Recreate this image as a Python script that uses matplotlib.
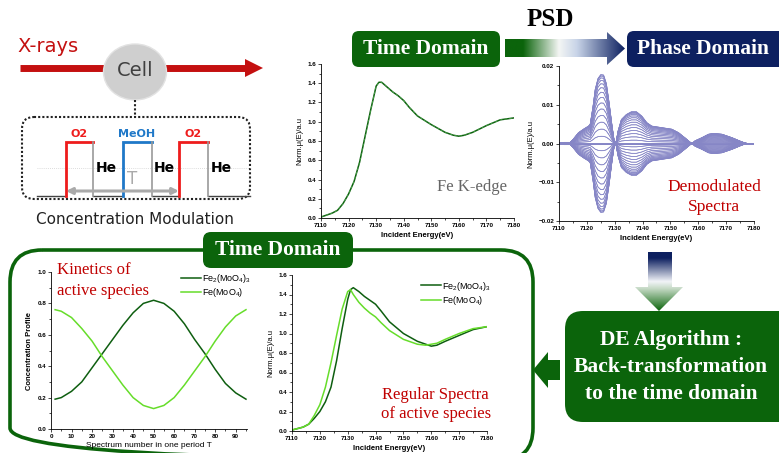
import numpy as np
import matplotlib
matplotlib.use("Agg")
import matplotlib.pyplot as plt
from matplotlib.patches import FancyBboxPatch, Polygon, Ellipse
from matplotlib.colors import LinearSegmentedColormap
from matplotlib.ticker import MultipleLocator

plt.rcParams['font.family'] = ['Liberation Sans', 'DejaVu Sans']
plt.rcParams['mathtext.fontset'] = 'custom'
plt.rcParams['mathtext.rm'] = 'Liberation Sans'
plt.rcParams['mathtext.it'] = 'Liberation Sans:italic'

# Fe K-edge spectrum (time domain, averaged)
energy_edge = [7110, 7114, 7116, 7118, 7120, 7122, 7124, 7126, 7128, 7130, 7131, 7132,
               7134, 7136, 7138, 7140, 7142, 7145, 7150, 7155, 7158, 7160, 7162, 7165,
               7170, 7175, 7180]
mu_edge = [0.01, 0.05, 0.08, 0.15, 0.25, 0.38, 0.58, 0.85, 1.12, 1.37, 1.41, 1.41,
           1.36, 1.31, 1.27, 1.22, 1.15, 1.06, 0.97, 0.89, 0.86, 0.85, 0.86, 0.89,
           0.96, 1.02, 1.04]

# demodulated amplitude (phase angle 0) and the phase angles used for PSD
energy_psd = [7110, 7112, 7114, 7115, 7117, 7119, 7120.6, 7121.2, 7122.2, 7123, 7124,
              7125, 7126, 7127, 7128, 7129, 7129.8, 7130.4, 7131.2, 7132.4, 7134.2,
              7136, 7137.8, 7139.7, 7141.5, 7143.3, 7146.9, 7150.5, 7152.9, 7155.3,
              7157.1, 7157.8, 7158.9, 7161.3, 7163.7, 7165.5, 7168.5, 7172.1, 7175.7,
              7177.5, 7180]
psd_amp = [0.0002, 0.0003, 0.0003, 0.001, 0.0028, 0.0038, 0.0045, 0.005, 0.0095, 0.014,
           0.0168, 0.0178, 0.0177, 0.0155, 0.0105, 0.0048, 0.0007, 0.0, -0.0032, -0.0062,
           -0.0075, -0.0082, -0.0082, -0.0071, -0.0054, -0.0045, -0.0041, -0.0037, -0.0028,
           -0.0014, -0.0003, 0.0, 0.0007, 0.0015, 0.0024, 0.0026, 0.0024, 0.0015, 0.0004,
           0.0, 0.0]
phase_angles = list(range(0, 360, 6))

# concentration profiles over one modulation period
spectrum_no = [2, 5, 10, 15, 20, 25, 30, 35, 40, 45, 50, 55, 60, 65, 70, 75, 80, 85, 90, 95]
conc_fe2 = [0.19, 0.20, 0.24, 0.30, 0.39, 0.48, 0.57, 0.66, 0.74, 0.80, 0.82, 0.80, 0.75,
            0.67, 0.57, 0.48, 0.38, 0.29, 0.23, 0.19]
conc_fe1 = [0.76, 0.75, 0.71, 0.64, 0.56, 0.46, 0.37, 0.28, 0.20, 0.15, 0.13, 0.15, 0.20,
            0.28, 0.37, 0.46, 0.56, 0.65, 0.72, 0.76]

# back-transformed spectra of the active species
energy_ref = [7110, 7114, 7116, 7118, 7120, 7122, 7124, 7126, 7128, 7130, 7131, 7132,
              7134, 7136, 7138, 7140, 7142, 7145, 7150, 7155, 7158, 7160, 7162, 7165,
              7170, 7175, 7180]
mu_fe2 = [0.01, 0.04, 0.07, 0.13, 0.20, 0.30, 0.45, 0.72, 1.05, 1.35, 1.45, 1.47,
          1.43, 1.38, 1.34, 1.30, 1.23, 1.12, 1.00, 0.92, 0.89, 0.87, 0.88, 0.92,
          0.98, 1.04, 1.07]
mu_fe1 = [0.01, 0.04, 0.07, 0.16, 0.27, 0.45, 0.70, 0.98, 1.25, 1.43, 1.45, 1.40,
          1.32, 1.26, 1.21, 1.17, 1.11, 1.03, 0.94, 0.89, 0.88, 0.89, 0.90, 0.94,
          1.00, 1.05, 1.07]

GREEN = '#0b640b'
NAVY = '#0d2060'
DARK = '#0e5e10'
LIGHT = '#66dd2a'
LAVENDER = '#8686c6'
RED_TXT = '#c00000'
W, H = 779, 453

fig = plt.figure(figsize=(W / 100, H / 100), dpi=100)

# background layer in pixel coordinates for boxes and arrows
bg = fig.add_axes([0, 0, 1, 1], zorder=0)
bg.set_xlim(0, W)
bg.set_ylim(H, 0)
bg.axis('off')


def box(x0, y0, x1, y1, r, **kw):
    p = FancyBboxPatch((x0, y0), x1 - x0, y1 - y0,
                       boxstyle=f"round,pad=0,rounding_size={r}", **kw)
    bg.add_patch(p)
    return p


def grad_arrow(pts, extent, stops, vertical=False):
    cmap = LinearSegmentedColormap.from_list('g', stops)
    g = np.linspace(0, 1, 256)
    arr = g[:, None] if vertical else g[None, :]
    im = bg.imshow(arr, cmap=cmap, extent=extent, origin='upper',
                   aspect='auto', interpolation='bilinear', zorder=2)
    poly = Polygon(pts, closed=True, fc='none', ec='none')
    bg.add_patch(poly)
    im.set_clip_path(poly)


# X-ray beam through the cell
bg.plot([20, 246], [68, 68], color='#c41010', lw=5, solid_capstyle='butt', zorder=1)
bg.add_patch(Polygon([(245, 59), (263, 68), (245, 77)], closed=True,
                     fc='#c41010', ec='none', zorder=1))
bg.text(17, 46, 'X-rays', color='#c41010', fontsize=14, family='DejaVu Sans',
        va='center', ha='left')
bg.add_patch(Ellipse((135, 72), 63, 56, fc='#cfcfcf', ec='#e2e2e2', lw=1, zorder=2))
bg.text(135, 70, 'Cell', color='#404040', fontsize=14, family='DejaVu Sans',
        ha='center', va='center', zorder=3)
bg.plot([135, 135], [100, 117], color='#222222', lw=1.5, ls=(0, (1, 1)))
box(22, 117, 250, 199, 12, fill=False, ec='#222222', lw=1.5, ls=(0, (1, 1)))

# gas switching sequence
bg.plot([37, 250], [168, 168], color='#d0d0d0', lw=0.6, ls=(0, (1, 1.5)))
bg.plot([37, 66, 66], [196, 196, 196], color='#444444', lw=1)
bg.plot([93, 123], [196, 196], color='#444444', lw=1)
bg.plot([152, 179], [196, 196], color='#444444', lw=1)
bg.plot([208, 250], [196, 196], color='#444444', lw=1)
for x0, x1, col in [(66, 93, '#ee1c1c'), (123, 152, '#1f78c8'), (179, 208, '#ee1c1c')]:
    bg.plot([x0, x0, x1], [196, 142, 142], color=col, lw=2, solid_joinstyle='miter')
    bg.plot([x1, x1], [142, 196], color='#999999', lw=1.2)
for x, lab, col in [(79, 'O2', '#ee1c1c'), (137, 'MeOH', '#1f78c8'), (193, 'O2', '#ee1c1c')]:
    bg.text(x, 134, lab, color=col, fontsize=8, fontweight='bold', ha='center',
            va='center', family='DejaVu Sans')
for x in [106, 164, 221]:
    bg.text(x, 168, 'He', color='black', fontsize=10, fontweight='bold', ha='center',
            va='center', family='DejaVu Sans')
bg.annotate('', xy=(66, 191), xytext=(179, 191),
            arrowprops=dict(arrowstyle='<|-|>', color='#aaaaaa', lw=2.2,
                            mutation_scale=9, shrinkA=0, shrinkB=0))
bg.text(132, 179, 'T', color='#aaaaaa', fontsize=12, ha='center', va='center',
        family='DejaVu Sans')
bg.text(135, 220, 'Concentration Modulation', color='#222222', fontsize=11,
        ha='center', va='center', family='DejaVu Sans')

# domain labels and arrows
serif = ['Liberation Serif', 'DejaVu Serif']
box(352, 31, 500, 67, 7, fc=GREEN, ec='none', zorder=3)
bg.text(426, 49, 'Time Domain', color='white', fontsize=15.5, fontweight='bold',
        family=serif, ha='center', va='center', zorder=4)
box(627, 31, 790, 67, 7, fc=NAVY, ec='none', zorder=3)
bg.text(703, 49, 'Phase Domain', color='white', fontsize=15.5, fontweight='bold',
        family=serif, ha='center', va='center', zorder=4)
grad_arrow([(505, 39), (607, 39), (607, 32), (625, 48.5), (607, 65), (607, 57), (505, 57)],
           (505, 625, 65, 32),
           [(0, GREEN), (0.15, GREEN), (0.45, '#f4f6f4'), (0.6, '#c8d4e8'), (1, NAVY)])
bg.text(550, 20, 'PSD', color='black', fontsize=18, fontweight='bold', family=serif,
        ha='center', va='center')
grad_arrow([(648, 252), (672, 252), (672, 287), (683, 287), (659, 311), (635, 287), (648, 287)],
           (635, 683, 311, 252),
           [(0, NAVY), (0.1, NAVY), (0.5, '#f2f4f8'), (0.62, '#c5dac5'), (1, GREEN)],
           vertical=True)

box(565, 311, 800, 422, 18, fc=GREEN, ec='none', zorder=3)
for y, line in [(340, 'DE Algorithm :'), (367, 'Back-transformation'),
                (394, 'to the time domain')]:
    bg.text(671, y, line, color='white', fontsize=15.5, fontweight='bold', family=serif,
            ha='center', va='center', zorder=4)
bg.add_patch(Polygon([(533, 370), (548, 352), (548, 360), (560, 360), (560, 380),
                      (548, 380), (548, 388)], closed=True, fc=GREEN, ec='none'))

box(10, 250, 533, 460, 32, fill=False, ec=GREEN, lw=2.6, zorder=1)
box(203, 232, 353, 268, 8, fc=GREEN, ec='none', zorder=3)
bg.text(278, 250, 'Time Domain', color='white', fontsize=15.5, fontweight='bold',
        family=serif, ha='center', va='center', zorder=4)


def add_ax(l, t, r, b):
    ax = fig.add_axes([l / W, 1 - b / H, (r - l) / W, (b - t) / H], zorder=2)
    ax.patch.set_alpha(0)
    for s in ['top', 'right']:
        ax.spines[s].set_visible(False)
    for s in ['left', 'bottom']:
        ax.spines[s].set_linewidth(0.6)
    ax.tick_params(which='both', direction='out', width=0.5, labelsize=4.5, pad=1.5)
    ax.tick_params(which='major', length=2)
    ax.tick_params(which='minor', length=1.2)
    return ax


def bold_ticks(ax):
    for lab in ax.get_xticklabels() + ax.get_yticklabels():
        lab.set_fontweight('bold')


def style_energy(ax):
    ax.set_xlim(7110, 7180)
    ax.xaxis.set_major_locator(MultipleLocator(10))
    ax.xaxis.set_minor_locator(MultipleLocator(5))
    ax.set_xlabel('Incident Energy(eV)', fontsize=5.5, fontweight='bold', labelpad=3)
    ax.set_ylabel('Norm.μ(E)/a.u', fontsize=5.5, labelpad=3)
    bold_ticks(ax)


# Fe K-edge in the time domain
ax1 = add_ax(321, 64, 514, 218)
ax1.plot(energy_edge, mu_edge, color=DARK, lw=1.1)
ax1.plot(energy_edge, mu_edge, color='#4fae4f', lw=0.5, ls=(0, (4, 3)))
ax1.set_ylim(0, 1.6)
ax1.yaxis.set_major_locator(MultipleLocator(0.2))
ax1.yaxis.set_minor_locator(MultipleLocator(0.1))
ax1.yaxis.set_major_formatter('{x:.1f}')
style_energy(ax1)
bg.text(472, 187, 'Fe K-edge', color='#666666', fontsize=12, family=serif,
        ha='center', va='center')

# demodulated spectra at each phase angle
ax2 = add_ax(559, 66, 754, 221)
amp = np.array(psd_amp)
for phi in phase_angles:
    ax2.plot(energy_psd, amp * np.cos(np.radians(phi)), color=LAVENDER, lw=0.5)
ax2.plot([7110, 7180], [0, 0], color=LAVENDER, lw=1.4)
ax2.set_ylim(-0.02, 0.02)
ax2.yaxis.set_major_locator(MultipleLocator(0.01))
ax2.yaxis.set_minor_locator(MultipleLocator(0.005))
ax2.yaxis.set_major_formatter('{x:.2f}')
style_energy(ax2)
bg.text(714, 187, 'Demodulated', color=RED_TXT, fontsize=12.5, family=serif,
        ha='center', va='center', zorder=5)
bg.text(714, 207, 'Spectra', color=RED_TXT, fontsize=12.5, family=serif,
        ha='center', va='center', zorder=5)

# kinetics of the active species
ax3 = add_ax(51, 272, 247, 429)
ax3.plot(spectrum_no, conc_fe2, color=DARK, lw=1.1, label=r'Fe$_2$(MoO$_4$)$_3$')
ax3.plot(spectrum_no, conc_fe1, color=LIGHT, lw=1.1, label=r'Fe(MoO$_4$)')
ax3.set_xlim(0, 95.5)
ax3.set_ylim(0, 1.0)
ax3.xaxis.set_major_locator(MultipleLocator(10))
ax3.xaxis.set_minor_locator(MultipleLocator(5))
ax3.yaxis.set_major_locator(MultipleLocator(0.2))
ax3.yaxis.set_minor_locator(MultipleLocator(0.1))
ax3.yaxis.set_major_formatter('{x:.1f}')
ax3.set_xlabel('Spectrum number in one period T', fontsize=6, labelpad=2)
ax3.set_ylabel('Concentration Profile', fontsize=5.5, fontweight='bold', labelpad=3)
bold_ticks(ax3)
ax3.legend(loc='upper left', bbox_to_anchor=(0.64, 1.03), frameon=False, fontsize=6.5,
           handlelength=2.2, handletextpad=0.1, labelspacing=0.15, borderpad=0)
bg.text(57, 270, 'Kinetics of', color=RED_TXT, fontsize=12, family=serif,
        ha='left', va='center', zorder=5)
bg.text(57, 291, 'active species', color=RED_TXT, fontsize=12, family=serif,
        ha='left', va='center', zorder=5)

# back-transformed spectra
ax4 = add_ax(292, 275, 487, 431)
ax4.plot(energy_ref, mu_fe2, color=DARK, lw=1.1, label=r'Fe$_2$(MoO$_4$)$_3$')
ax4.plot(energy_ref, mu_fe1, color=LIGHT, lw=1.1, label=r'Fe(MoO$_4$)')
ax4.set_ylim(0, 1.6)
ax4.yaxis.set_major_locator(MultipleLocator(0.2))
ax4.yaxis.set_minor_locator(MultipleLocator(0.1))
ax4.yaxis.set_major_formatter('{x:.1f}')
style_energy(ax4)
ax4.legend(loc='upper left', bbox_to_anchor=(0.64, 1.0), frameon=False, fontsize=6.5,
           handlelength=2.2, handletextpad=0.1, labelspacing=0.15, borderpad=0)
bg.text(435, 395, 'Regular Spectra', color=RED_TXT, fontsize=12, family=serif,
        ha='center', va='center', zorder=5)
bg.text(436, 414, 'of active species', color=RED_TXT, fontsize=12, family=serif,
        ha='center', va='center', zorder=5)

fig.savefig('out.png', dpi=100)
